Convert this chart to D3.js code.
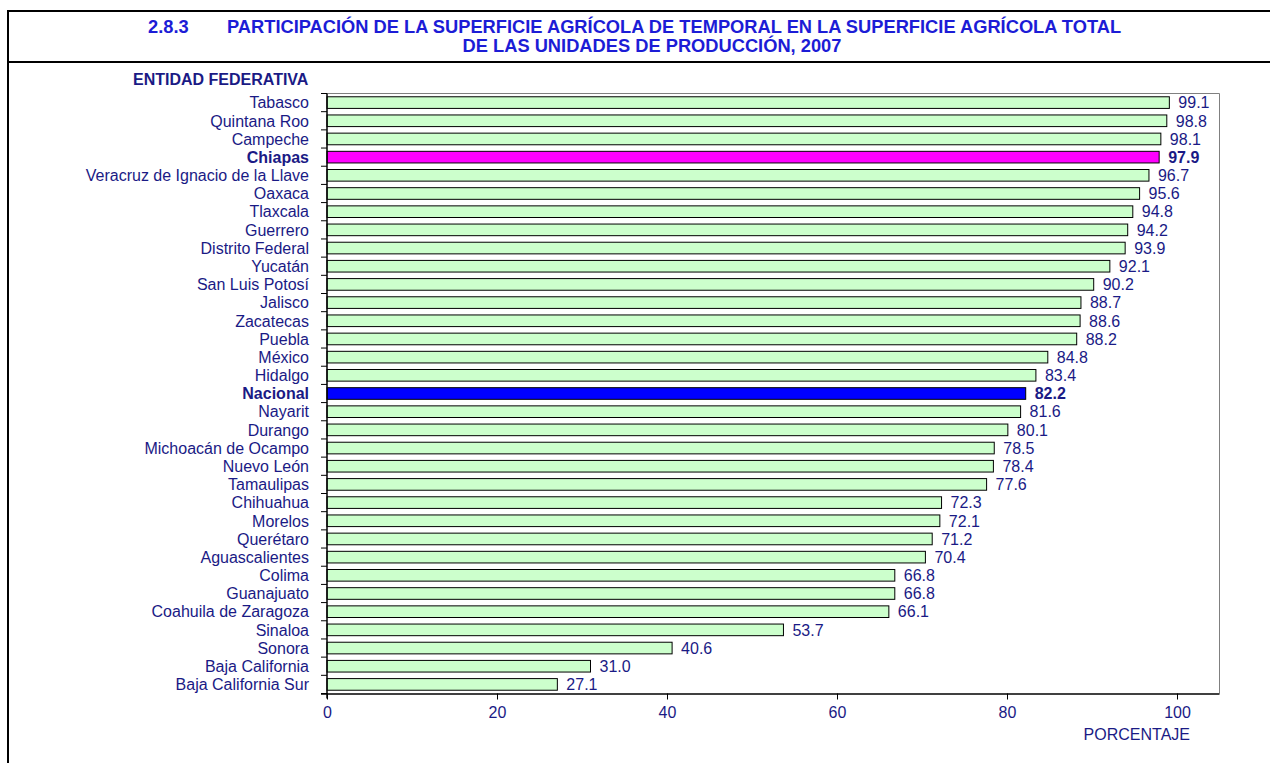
<!DOCTYPE html>
<html>
<head>
<meta charset="utf-8">
<script src="https://cdn.jsdelivr.net/npm/d3@7"></script>
<style>
  html, body { margin: 0; padding: 0; background: #fff; }
  svg { display: block; font-family: "Liberation Sans", Arial, sans-serif; }
</style>
</head>
<body>
<svg id="chart" width="1270" height="763"></svg>
<script>
// Entidades federativas, ordered from highest to lowest share
const states = [
  "Tabasco", "Quintana Roo", "Campeche", "Chiapas",
  "Veracruz de Ignacio de la Llave", "Oaxaca", "Tlaxcala", "Guerrero",
  "Distrito Federal", "Yucatán", "San Luis Potosí", "Jalisco",
  "Zacatecas", "Puebla", "México", "Hidalgo", "Nacional", "Nayarit",
  "Durango", "Michoacán de Ocampo", "Nuevo León", "Tamaulipas",
  "Chihuahua", "Morelos", "Querétaro", "Aguascalientes", "Colima",
  "Guanajuato", "Coahuila de Zaragoza", "Sinaloa", "Sonora",
  "Baja California", "Baja California Sur"
];

// Percentage of rain-fed agricultural area in total agricultural area
const values = [
  99.1, 98.8, 98.1, 97.9, 96.7, 95.6, 94.8, 94.2, 93.9, 92.1, 90.2, 88.7,
  88.6, 88.2, 84.8, 83.4, 82.2, 81.6, 80.1, 78.5, 78.4, 77.6, 72.3, 72.1,
  71.2, 70.4, 66.8, 66.8, 66.1, 53.7, 40.6, 31.0, 27.1
];

const xTicks = [0, 20, 40, 60, 80, 100];
const emphasized = ["Chiapas", "Nacional"];

const titleCode = "2.8.3";
const titleLines = [
  "PARTICIPACIÓN DE LA SUPERFICIE AGRÍCOLA DE TEMPORAL EN LA SUPERFICIE AGRÍCOLA TOTAL",
  "DE LAS UNIDADES DE PRODUCCIÓN, 2007"
];
const yAxisTitle = "ENTIDAD FEDERATIVA";
const xAxisTitle = "PORCENTAJE";

// Styling
const barFill = "#ccffcc";
const specialFill = { "Chiapas": "#ff00ff", "Nacional": "#0000ff" };
const textColor = "#1a1a85";
const titleColor = "#1c1cd6";

const svg = d3.select("#chart");
const rows = states.map((s, i) => ({ state: s, value: values[i] }));

const plot = { left: 327, right: 1219.5, top: 93.5, bottom: 693.5 };

const x = d3.scaleLinear().domain([0, 105]).range([plot.left, plot.right]);
const y = d3.scaleBand().domain(states).range([plot.top, plot.bottom]).paddingInner(0.36).paddingOuter(0.18);

// Page frame and header separator
const frame = svg.append("g").attr("stroke", "#000").attr("stroke-width", 2).attr("fill", "none");
frame.append("line").attr("x1", 8).attr("x2", 8).attr("y1", 10).attr("y2", 763);
frame.append("line").attr("x1", 7).attr("x2", 1270).attr("y1", 11).attr("y2", 11);
frame.append("line").attr("x1", 7).attr("x2", 1270).attr("y1", 62).attr("y2", 62);

// Title
const title = svg.append("g").attr("fill", titleColor).attr("font-weight", "bold").attr("font-size", 18.3);
title.append("text").attr("x", 148).attr("y", 33).text(titleCode);
title.append("text").attr("x", 227).attr("y", 33).text(titleLines[0]);
title.append("text").attr("x", 652).attr("y", 52).attr("text-anchor", "middle").text(titleLines[1]);

// Plot frame (top and right)
svg.append("path")
  .attr("d", `M${plot.left},${plot.top}H${plot.right}V${plot.bottom}`)
  .attr("fill", "none").attr("stroke", "#808080").attr("stroke-width", 1);

// Bars
svg.append("g").selectAll("rect").data(rows).join("rect")
  .attr("x", x(0))
  .attr("y", d => y(d.state))
  .attr("width", d => x(d.value) - x(0))
  .attr("height", y.bandwidth())
  .attr("fill", d => specialFill[d.state] || barFill)
  .attr("stroke", "#000").attr("stroke-width", 1);

// Value labels
svg.append("g").selectAll("text").data(rows).join("text")
  .attr("x", d => x(d.value) + 9)
  .attr("y", d => y(d.state) + y.bandwidth() / 2)
  .attr("dy", "0.36em")
  .attr("font-size", 16)
  .attr("fill", textColor)
  .attr("font-weight", d => emphasized.includes(d.state) ? "bold" : "normal")
  .text(d => d3.format(".1f")(d.value));

// Y axis: ticks between categories
const yAxis = svg.append("g");
yAxis.append("line")
  .attr("x1", plot.left).attr("x2", plot.left)
  .attr("y1", plot.top).attr("y2", plot.bottom + 5)
  .attr("stroke", "#000").attr("stroke-width", 1.5);
const step = y.step();
yAxis.selectAll("line.tick").data(d3.range(states.length + 1)).join("line")
  .attr("class", "tick")
  .attr("x1", plot.left - 6).attr("x2", plot.left)
  .attr("y1", i => plot.top + i * step).attr("y2", i => plot.top + i * step)
  .attr("stroke", "#000").attr("stroke-width", 1);
yAxis.selectAll("text").data(rows).join("text")
  .attr("x", 309)
  .attr("y", d => y(d.state) + y.bandwidth() / 2)
  .attr("dy", "0.36em")
  .attr("text-anchor", "end")
  .attr("font-size", 16)
  .attr("fill", textColor)
  .attr("font-weight", d => emphasized.includes(d.state) ? "bold" : "normal")
  .text(d => d.state);

// X axis
const xAxis = svg.append("g")
  .attr("transform", `translate(0,${plot.bottom})`)
  .call(d3.axisBottom(x).tickValues(xTicks).tickSize(6).tickSizeOuter(0).tickPadding(7));
xAxis.select(".domain").attr("stroke", "#000").attr("stroke-width", 1.5)
  .attr("d", `M${plot.left - 6},0.5H${plot.right}`);
xAxis.selectAll(".tick line").attr("stroke", "#000");
xAxis.selectAll(".tick text")
  .attr("font-size", 16).attr("fill", textColor)
  .attr("font-family", "'Liberation Sans', Arial, sans-serif");

// Axis titles
svg.append("text").attr("x", 133).attr("y", 85)
  .attr("font-size", 16).attr("font-weight", "bold").attr("fill", textColor)
  .text(yAxisTitle);
svg.append("text").attr("x", 1190).attr("y", 740).attr("text-anchor", "end")
  .attr("font-size", 16).attr("fill", textColor)
  .text(xAxisTitle);
</script>
</body>
</html>
